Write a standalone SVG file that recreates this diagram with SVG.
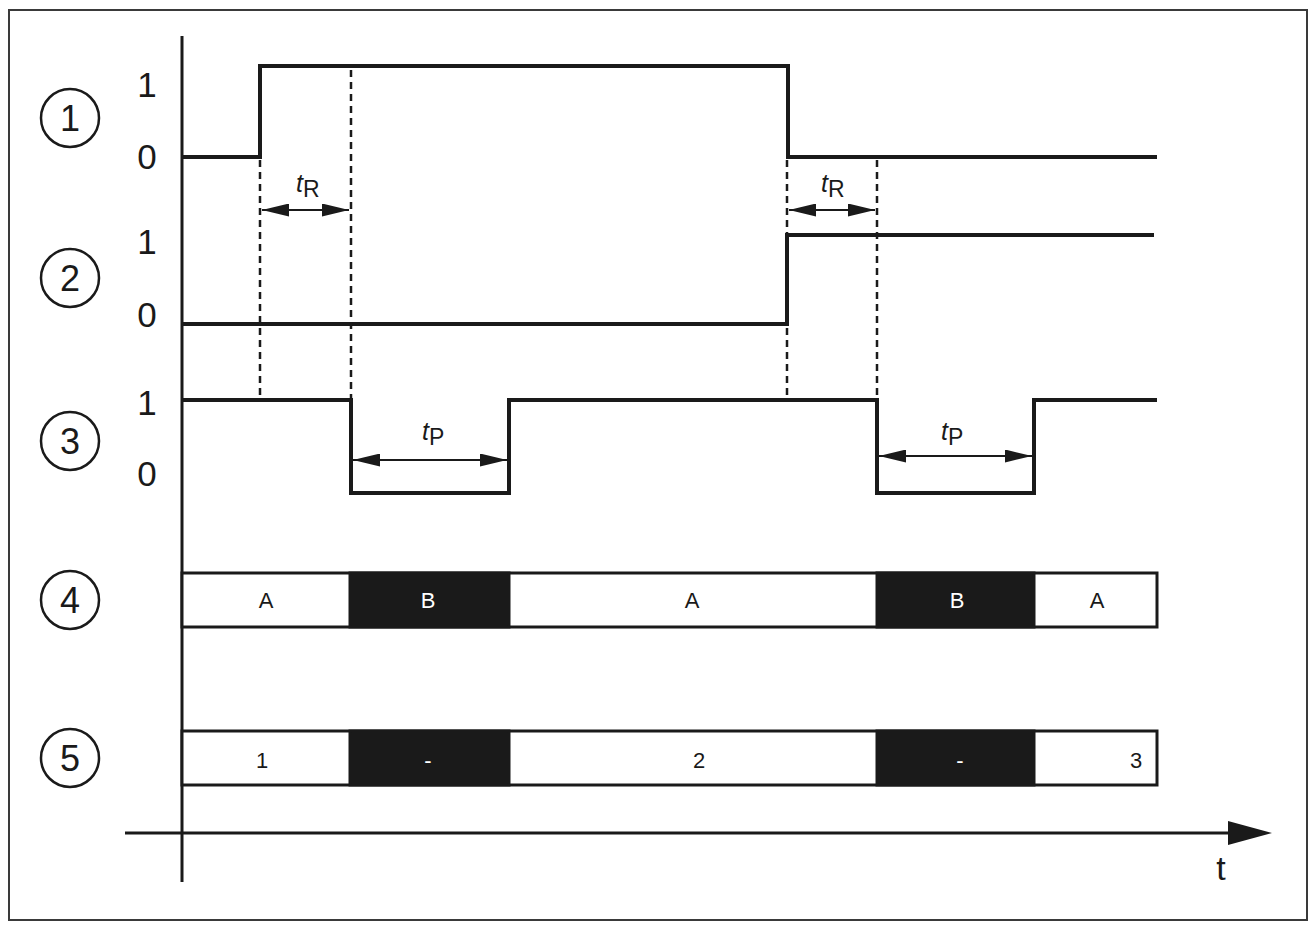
<svg xmlns="http://www.w3.org/2000/svg" width="1312" height="926" viewBox="0 0 1312 926">
<style>
.sig{fill:none;stroke:#1a1a1a;stroke-width:4;stroke-linejoin:miter}
.ax{stroke:#1a1a1a;stroke-width:3;fill:none}
.dash{stroke:#1a1a1a;stroke-width:2.5;stroke-dasharray:7,5;fill:none}
.dim{stroke:#1a1a1a;stroke-width:2.2;fill:none}
.lvl{font-family:"Liberation Sans",Arial,sans-serif;font-size:35px;fill:#1a1a1a;text-anchor:middle}
.num{font-family:"Liberation Sans",Arial,sans-serif;font-size:36px;fill:#1a1a1a;text-anchor:middle}
.cir{fill:none;stroke:#1a1a1a;stroke-width:2.5}
.bw{fill:#fff;stroke:#1a1a1a;stroke-width:3}
.bb{fill:#1a1a1a;stroke:#1a1a1a;stroke-width:3}
.tw{font-family:"Liberation Sans",Arial,sans-serif;font-size:22px;fill:#1a1a1a;text-anchor:middle}
.tb{font-family:"Liberation Sans",Arial,sans-serif;font-size:22px;fill:#fff;text-anchor:middle}
.lab{font-family:"Liberation Sans",Arial,sans-serif;font-size:25px;fill:#1a1a1a}
</style>
<defs>
<marker id="dh" viewBox="0 0 27 13" refX="27" refY="6.5" markerWidth="27" markerHeight="13" markerUnits="userSpaceOnUse" orient="auto-start-reverse">
<path d="M0,0 L27,6.5 L0,13 z" fill="#1a1a1a"/>
</marker>
</defs>
<rect x="9" y="10" width="1298" height="910" fill="#fff" stroke="#3a3a3a" stroke-width="2"/>

<g id="axes">
<line class="ax" x1="182" y1="36" x2="182" y2="882"/>
<line class="ax" x1="125" y1="833" x2="1235" y2="833"/>
<path d="M1228,821 L1272,833 L1228,845 z" fill="#1a1a1a"/>
<text x="1221" y="880" font-family="Liberation Sans,Arial,sans-serif" font-size="34" fill="#1a1a1a" text-anchor="middle">t</text>
</g>

<g id="row1">
<circle class="cir" cx="70" cy="118" r="29"/>
<text class="num" x="70" y="131">1</text>
<text class="lvl" x="147" y="97">1</text>
<text class="lvl" x="147" y="169">0</text>
<polyline class="sig" points="182,157 260,157 260,66 788,66 788,157 1157,157"/>
</g>

<g id="row2">
<circle class="cir" cx="70" cy="278" r="29"/>
<text class="num" x="70" y="291">2</text>
<text class="lvl" x="147" y="254">1</text>
<text class="lvl" x="147" y="327">0</text>
<polyline class="sig" points="182,324 787,324 787,235 1154,235"/>
</g>

<g id="row3">
<circle class="cir" cx="70" cy="441" r="29"/>
<text class="num" x="70" y="454">3</text>
<text class="lvl" x="147" y="415">1</text>
<text class="lvl" x="147" y="486">0</text>
<polyline class="sig" points="182,400 351,400 351,493 509,493 509,400 877,400 877,493 1034,493 1034,400 1157,400"/>
</g>

<g id="row4">
<circle class="cir" cx="70" cy="600" r="29"/>
<text class="num" x="70" y="613">4</text>
<rect class="bw" x="182" y="573" width="975" height="54"/>
<rect class="bb" x="350" y="573" width="159" height="54"/>
<rect class="bb" x="877" y="573" width="157" height="54"/>
<text class="tw" x="266" y="608">A</text>
<text class="tb" x="428" y="608">B</text>
<text class="tw" x="692" y="608">A</text>
<text class="tb" x="957" y="608">B</text>
<text class="tw" x="1097" y="608">A</text>
</g>

<g id="row5">
<circle class="cir" cx="70" cy="758" r="29"/>
<text class="num" x="70" y="771">5</text>
<rect class="bw" x="182" y="731" width="975" height="54"/>
<rect class="bb" x="350" y="731" width="159" height="54"/>
<rect class="bb" x="877" y="731" width="157" height="54"/>
<text class="tw" x="262" y="768">1</text>
<text class="tb" x="428" y="768">-</text>
<text class="tw" x="699" y="768">2</text>
<text class="tb" x="960" y="768">-</text>
<text class="tw" x="1136" y="768">3</text>
</g>

<g id="connectors">
<line class="dash" x1="260" y1="160" x2="260" y2="400"/>
<line class="dash" x1="351" y1="70" x2="351" y2="400"/>
<line class="dash" x1="787" y1="160" x2="787" y2="400"/>
<line class="dash" x1="877" y1="160" x2="877" y2="400"/>
<line class="dim" x1="262" y1="210" x2="349" y2="210" marker-start="url(#dh)" marker-end="url(#dh)"/>
<line class="dim" x1="789" y1="210" x2="875" y2="210" marker-start="url(#dh)" marker-end="url(#dh)"/>
<line class="dim" x1="353" y1="460" x2="507" y2="460" marker-start="url(#dh)" marker-end="url(#dh)"/>
<line class="dim" x1="879" y1="456" x2="1032" y2="456" marker-start="url(#dh)" marker-end="url(#dh)"/>
<text class="lab" x="296" y="192"><tspan font-style="italic">t</tspan><tspan font-size="23" dy="5">R</tspan></text>
<text class="lab" x="821" y="192"><tspan font-style="italic">t</tspan><tspan font-size="23" dy="5">R</tspan></text>
<text class="lab" x="422" y="440"><tspan font-style="italic">t</tspan><tspan font-size="23" dy="5">P</tspan></text>
<text class="lab" x="941" y="440"><tspan font-style="italic">t</tspan><tspan font-size="23" dy="5">P</tspan></text>
</g>
</svg>
